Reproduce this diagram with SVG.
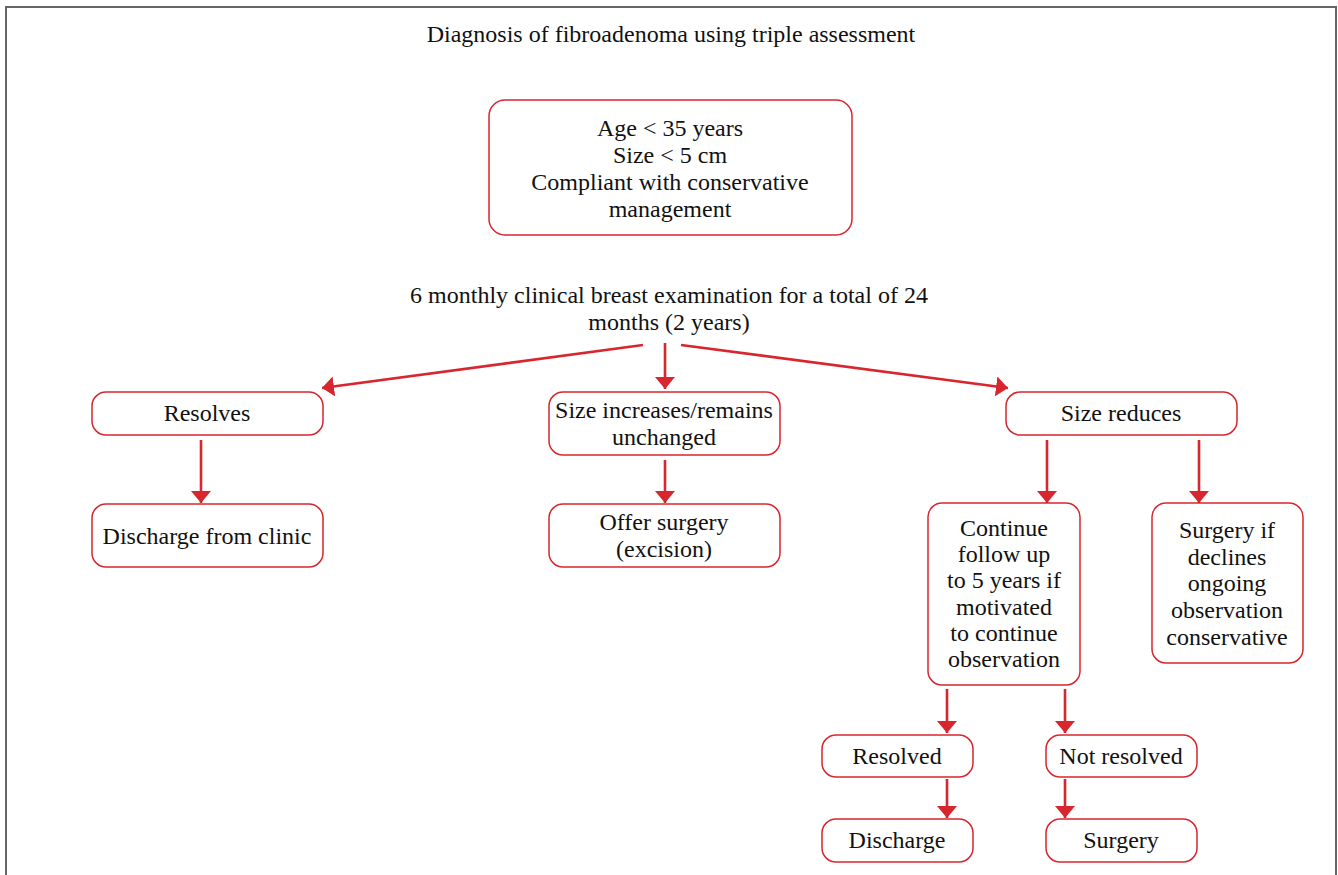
<svg xmlns="http://www.w3.org/2000/svg" width="1338" height="875" viewBox="0 0 1338 875">
<defs>
<style>
.t{font-family:"Liberation Serif","Times New Roman",serif;font-size:24px;fill:#111;text-anchor:middle}
.n{fill:#fff;stroke:#d8262e;stroke-width:1.5}
.c{stroke:#d8262e;stroke-width:2.6;fill:none;marker-end:url(#ah)}
</style>
<marker id="ah" viewBox="0 0 12 20" refX="12" refY="10" markerWidth="12" markerHeight="20" markerUnits="userSpaceOnUse" orient="auto">
<path d="M0,0 L12,10 L0,20 z" fill="#d8262e"/>
</marker>
</defs>
<rect width="1338" height="875" fill="#fff"/>
<path d="M6,876 L6,7 L1336,7 L1336,876" fill="none" stroke="#666" stroke-width="2"/>
<text class="t" x="671" y="42">Diagnosis of fibroadenoma using triple assessment</text>
<g id="criteria"><rect class="n" x="489" y="100" width="363" height="135" rx="16"/>
<text class="t" x="670" y="136">Age &lt; 35 years</text>
<text class="t" x="670" y="163">Size &lt; 5 cm</text>
<text class="t" x="670" y="190">Compliant with conservative</text>
<text class="t" x="670" y="217">management</text></g>
<g id="exam"><text class="t" x="669" y="303">6 monthly clinical breast examination for a total of 24</text>
<text class="t" x="669" y="330">months (2 years)</text></g>
<g id="resolves"><rect class="n" x="92" y="392" width="231" height="43" rx="14"/>
<text class="t" x="207" y="421">Resolves</text></g>
<g id="increases"><rect class="n" x="549" y="392" width="231" height="63" rx="14"/>
<text class="t" x="664" y="418">Size increases/remains</text>
<text class="t" x="664" y="445">unchanged</text></g>
<g id="reduces"><rect class="n" x="1006" y="392" width="231" height="43" rx="14"/>
<text class="t" x="1121" y="421">Size reduces</text></g>
<g id="discharge-clinic"><rect class="n" x="92" y="504" width="231" height="63" rx="14"/>
<text class="t" x="207" y="544">Discharge from clinic</text></g>
<g id="offer-surgery"><rect class="n" x="549" y="504" width="231" height="63" rx="14"/>
<text class="t" x="664" y="530">Offer surgery</text>
<text class="t" x="664" y="557">(excision)</text></g>
<g id="continue"><rect class="n" x="928" y="503" width="152" height="182" rx="14"/>
<text class="t" x="1004" y="536">Continue</text>
<text class="t" x="1004" y="562">follow up</text>
<text class="t" x="1004" y="588">to 5 years if</text>
<text class="t" x="1004" y="615">motivated</text>
<text class="t" x="1004" y="641">to continue</text>
<text class="t" x="1004" y="667">observation</text></g>
<g id="surgery-if"><rect class="n" x="1152" y="503" width="151" height="160" rx="14"/>
<text class="t" x="1227" y="538">Surgery if</text>
<text class="t" x="1227" y="565">declines</text>
<text class="t" x="1227" y="591">ongoing</text>
<text class="t" x="1227" y="618">observation</text>
<text class="t" x="1227" y="645">conservative</text></g>
<g id="resolved"><rect class="n" x="822" y="735" width="151" height="42" rx="14"/>
<text class="t" x="897" y="764">Resolved</text></g>
<g id="not-resolved"><rect class="n" x="1046" y="735" width="151" height="42" rx="14"/>
<text class="t" x="1121" y="764">Not resolved</text></g>
<g id="discharge"><rect class="n" x="822" y="819" width="151" height="43" rx="14"/>
<text class="t" x="897" y="848">Discharge</text></g>
<g id="surgery"><rect class="n" x="1046" y="819" width="151" height="43" rx="14"/>
<text class="t" x="1121" y="848">Surgery</text></g>
<g id="connectors">
<line class="c" x1="643" y1="345" x2="322" y2="388"/>
<line class="c" x1="665" y1="343" x2="665" y2="389"/>
<line class="c" x1="681" y1="345" x2="1008" y2="388"/>
<line class="c" x1="201" y1="440" x2="201" y2="503"/>
<line class="c" x1="665" y1="460" x2="665" y2="503"/>
<line class="c" x1="1047" y1="440" x2="1047" y2="503"/>
<line class="c" x1="1199" y1="440" x2="1199" y2="503"/>
<line class="c" x1="947" y1="689" x2="947" y2="733"/>
<line class="c" x1="1065" y1="689" x2="1065" y2="733"/>
<line class="c" x1="947" y1="779" x2="947" y2="818"/>
<line class="c" x1="1065" y1="779" x2="1065" y2="818"/>
</g>
</svg>
